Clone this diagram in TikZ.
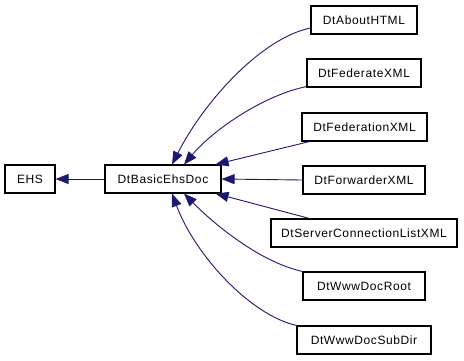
\documentclass[tikz,border=0pt]{standalone}
\usepackage{fontspec}
\newfontfamily\dfont[LetterSpace=5]{Liberation Sans}
\usetikzlibrary{arrows.meta}
\definecolor{edgec}{RGB}{25,25,112}
\begin{document}
\begin{tikzpicture}[x=1pt,y=-1pt,
  box/.style={draw=black, line width=1.1pt, fill=white, minimum height=28pt, inner sep=0pt, font=\dfont\fontsize{12}{14}\selectfont},
  edge/.style={draw=edgec, line width=0.9pt, arrows={-Triangle[length=13pt,width=10pt]}}
]
\useasboundingbox (0,0) rectangle (464,360);
\node[box, minimum width=50pt]  (ehs)   at (30,179)  {EHS};
\node[box, minimum width=116pt] (basic) at (163,179) {DtBasicEhsDoc};
\node[box, minimum width=106pt] (about) at (364,20)  {DtAboutHTML};
\node[box, minimum width=114pt] (fed)   at (364,73)  {DtFederateXML};
\node[box, minimum width=125pt] (fedn)  at (364.5,127) {DtFederationXML};
\node[box, minimum width=122pt] (fwd)   at (364,180) {DtForwarderXML};
\node[box, minimum width=186pt] (srv)   at (364,233) {DtServerConnectionListXML};
\node[box, minimum width=122pt] (root)  at (364,286) {DtWwwDocRoot};
\node[box, minimum width=134pt] (sub)   at (364,340) {DtWwwDocSubDir};

\draw[edge] (basic.west) -- (ehs.east);
\draw[edge] ([yshift=-8pt]about.west) .. controls (262,38) and (205,100) .. ([xshift=9pt]basic.north);
\draw[edge] ([yshift=1pt]fed.south west) .. controls (265,95) and (215,128) .. ([xshift=21pt]basic.north);
\draw[edge] ([xshift=8pt]fedn.south west) -- ([xshift=-6pt]basic.north east);
\draw[edge] (fwd.west) -- (basic.east);
\draw[edge] ([xshift=39pt]srv.north west) -- ([xshift=-6pt]basic.south east);
\draw[edge] (root.north west) .. controls (260,262) and (215,225) .. ([xshift=21pt]basic.south);
\draw[edge] (sub.north west) .. controls (250,315) and (195,255) .. ([xshift=9pt]basic.south);
\end{tikzpicture}
\end{document}
